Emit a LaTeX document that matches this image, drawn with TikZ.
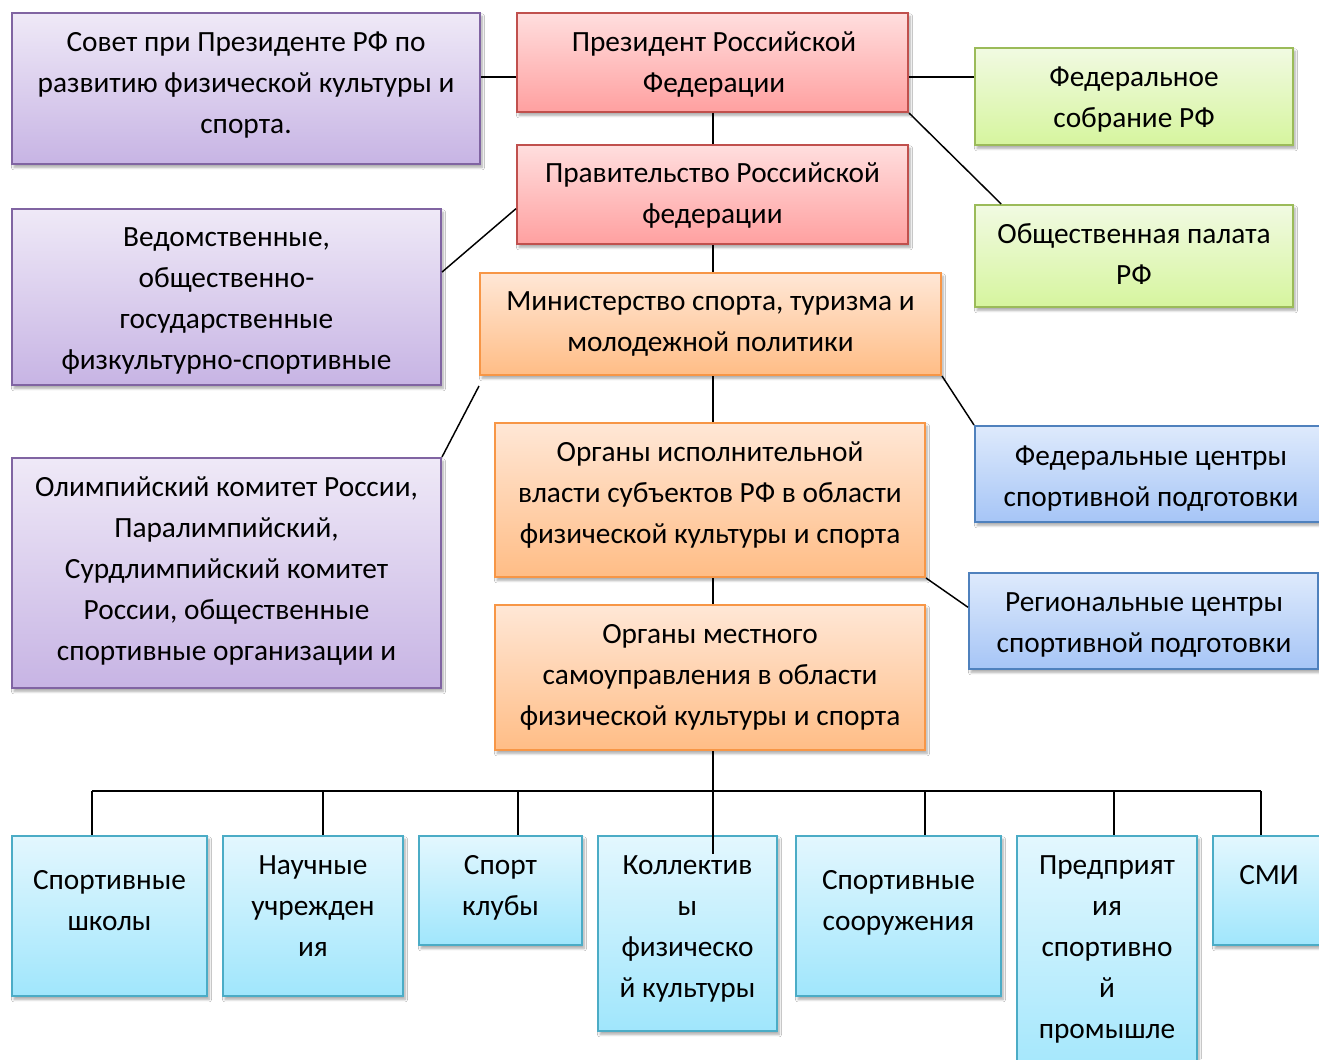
\documentclass[tikz,border=0pt]{standalone}
\usepackage{fontspec}
\setmainfont{Carlito}
\usetikzlibrary{calc,shadows.blur}
\definecolor{purTop}{RGB}{239,233,247}\definecolor{purBot}{RGB}{199,180,228}\definecolor{purBd}{RGB}{128,100,162}
\definecolor{redTop}{RGB}{255,222,222}\definecolor{redBot}{RGB}{255,160,160}\definecolor{redBd}{RGB}{192,80,77}
\definecolor{grnTop}{RGB}{241,250,226}\definecolor{grnBot}{RGB}{214,245,158}\definecolor{grnBd}{RGB}{155,187,89}
\definecolor{orTop}{RGB}{255,231,214}\definecolor{orBot}{RGB}{255,189,134}\definecolor{orBd}{RGB}{247,150,70}
\definecolor{bluTop}{RGB}{222,234,252}\definecolor{bluBot}{RGB}{166,197,246}\definecolor{bluBd}{RGB}{79,129,189}
\definecolor{cyTop}{RGB}{227,247,254}\definecolor{cyBot}{RGB}{160,230,252}\definecolor{cyBd}{RGB}{75,172,198}
\newcommand\bodyfont{\fontsize{22pt}{30.75pt}\selectfont}
\newcommand\tst{\rule{0pt}{18.75pt}}
\tikzset{
  boxbase/.style={rectangle, inner sep=0pt, line width=1.5pt,
    blur shadow={shadow xshift=1.5pt, shadow yshift=-2.5pt, shadow opacity=35, shadow blur steps=6}},
  purbox/.style={boxbase, draw=purBd, top color=purTop, bottom color=purBot},
  redbox/.style={boxbase, draw=redBd, top color=redTop, bottom color=redBot},
  grnbox/.style={boxbase, draw=grnBd, top color=grnTop, bottom color=grnBot},
  orbox/.style={boxbase, draw=orBd, top color=orTop, bottom color=orBot},
  blubox/.style={boxbase, draw=bluBd, top color=bluTop, bottom color=bluBot},
  cybox/.style={boxbase, draw=cyBd, top color=cyTop, bottom color=cyBot},
  txt/.style={anchor=north, inner sep=0pt, align=center, font=\bodyfont, text=black},
  link/.style={draw=black, line width=1.1pt}
}
% name, style, x1, y1, x2, y2 (pixels)
\newcommand\mybox[6]{\node[#2, minimum width={(#5-#3)*0.75pt}, minimum height={(#6-#4)*0.75pt}] (#1) at ({(#3+#5)/2},{(#4+#6)/2}) {};}
% name, x, first-line centre y, text
\newcommand\boxtext[4]{\node[txt] (#1) at (#2,{#3-17}) {\tst #4};}
\begin{document}
\begin{tikzpicture}[x=0.75pt,y=-0.75pt]
\useasboundingbox (0,0) rectangle (1319,1059);
\fill[white] (0,0) rectangle (1319,1059);

% boxes
\mybox{sovet}{purbox}{12}{13}{480}{164}
\mybox{pres}{redbox}{517}{13}{908}{112}
\mybox{fed}{grnbox}{975}{48}{1293}{145}
\mybox{gov}{redbox}{517}{145}{908}{244}
\mybox{pal}{grnbox}{975}{205}{1293}{307}
\mybox{ved}{purbox}{12}{209}{441}{385}
\mybox{min}{orbox}{480}{273}{941}{375}
\mybox{fedc}{blubox}{975}{426}{1328}{522}
\mybox{isp}{orbox}{495}{423}{925}{577}
\mybox{reg}{blubox}{969}{573}{1318}{669}
\mybox{oly}{purbox}{12}{458}{441}{688}
\mybox{mest}{orbox}{495}{605}{925}{750}
\mybox{shk}{cybox}{12}{836}{207}{996}
\mybox{nauch}{cybox}{223}{836}{403}{996}
\mybox{klub}{cybox}{419}{836}{582}{945}
\mybox{koll}{cybox}{598}{836}{777}{1031}
\mybox{soor}{cybox}{796}{836}{1001}{996}
\mybox{pred}{cybox}{1017}{836}{1197}{1085}
\mybox{smi}{cybox}{1213}{836}{1328}{945}

% texts
\boxtext{tsovet}{246}{43}{Совет при Президенте РФ по\\развитию физической культуры и\\спорта.}
\boxtext{tpres}{714}{43}{Президент Российской\\Федерации}
\boxtext{tfed}{1134}{78}{Федеральное\\собрание РФ}
\boxtext{tgov}{712.5}{174}{Правительство Российской\\федерации}
\boxtext{tpal}{1134}{235}{Общественная палата\\РФ}
\begin{scope}
\clip (ved.south west) rectangle (ved.north east);
\boxtext{tved}{226.5}{238}{Ведомственные,\\общественно-\\государственные\\физкультурно-спортивные}
\end{scope}
\boxtext{tmin}{710.5}{302}{Министерство спорта, туризма и\\молодежной политики}
\boxtext{tfedc}{1151}{457}{Федеральные центры\\спортивной подготовки}
\boxtext{tisp}{710}{453}{Органы исполнительной\\власти субъектов РФ в области\\физической культуры и спорта}
\boxtext{treg}{1144}{603}{Региональные центры\\спортивной подготовки}
\boxtext{toly}{226.5}{488}{Олимпийский комитет России,\\Паралимпийский,\\Сурдлимпийский комитет\\России, общественные\\спортивные организации и}
\boxtext{tmest}{710}{635}{Органы местного\\самоуправления в области\\физической культуры и спорта}
\boxtext{tshk}{109.5}{881}{Спортивные\\школы}
\boxtext{tnauch}{313}{866}{Научные\\учрежден\\ия}
\boxtext{tklub}{500.5}{866}{Спорт\\клубы}
\boxtext{tkoll}{687.5}{866}{Коллектив\\ы\\физическо\\й культуры}
\boxtext{tsoor}{898.5}{881}{Спортивные\\сооружения}
\boxtext{tpred}{1107}{866}{Предприят\\ия\\спортивно\\й\\промышле}
\boxtext{tsmi}{1269}{876}{СМИ}

% connectors
\coordinate (pw) at ($(pres.north west)!0.645!(pres.south west)$);
\coordinate (pe) at ($(pres.north east)!0.645!(pres.south east)$);
\draw[link] (pw) -- (pw -| sovet.east);
\draw[link] (pe) -- (pe -| fed.west);
\draw[link] (pres.south east) -- ($(pal.north west)!0.085!(pal.north east)$);
\coordinate (axis) at (713,0);
\draw[link] (axis |- pres.south) -- (axis |- gov.north);
\draw[link] (axis |- gov.south) -- (axis |- min.north);
\draw[link] ($(ved.north east)!0.36!(ved.south east)$) -- ($(gov.north west)!0.64!(gov.south west)$);
\draw[link] ($(min.south west)+(0,10)$) -- (oly.north east);
\draw[link] (min.south east) -- (fedc.north west);
\draw[link] (axis |- min.south) -- (axis |- isp.north);
\draw[link] (isp.south east) -- ($(reg.north west)!0.36!(reg.south west)$);
\draw[link] (axis |- isp.south) -- (axis |- mest.north);
\coordinate (bus) at (713,791);
\draw[link] (axis |- mest.south) -- (bus) -- ($(bus)+(0,63)$);
\coordinate (b1) at (92,791);
\coordinate (b2) at (323,791);
\coordinate (b3) at (518,791);
\coordinate (b5) at (925,791);
\coordinate (b6) at (1114,791);
\coordinate (b7) at (1261,791);
\draw[link] (b1) -- (b7);
\draw[link] (b1) -- (b1 |- shk.north);
\draw[link] (b2) -- (b2 |- nauch.north);
\draw[link] (b3) -- (b3 |- klub.north);
\draw[link] (b5) -- (b5 |- soor.north);
\draw[link] (b6) -- (b6 |- pred.north);
\draw[link] (b7) -- (b7 |- smi.north);
\end{tikzpicture}
\end{document}
